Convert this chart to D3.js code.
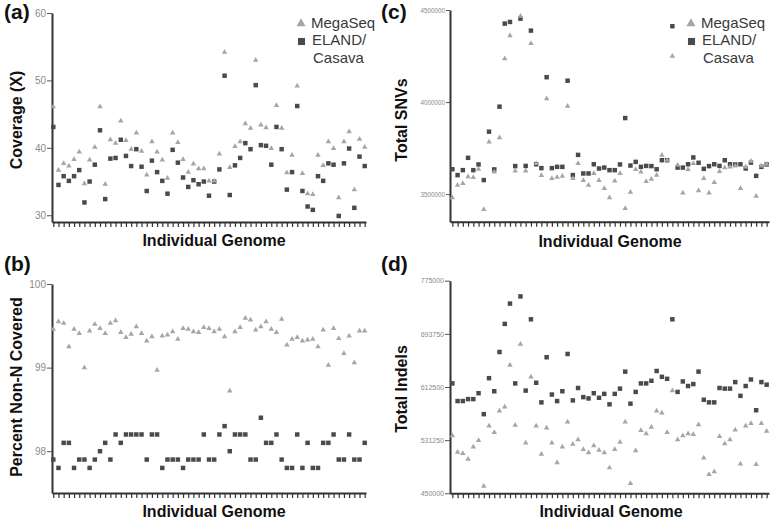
<!DOCTYPE html>
<html><head><meta charset="utf-8">
<script src="https://cdn.jsdelivr.net/npm/d3@7"></script>
<style>
body{margin:0;background:#fff;}
svg{display:block;font-family:"Liberation Sans",Arial,sans-serif;}
</style></head><body>
<svg id="chart" width="780" height="529"></svg>
<script>
// ---- Data ----
const coverageMegaSeq = [46.1,36.7,37.7,37.3,38.3,39.4,34.7,38.2,40.1,46.1,34.6,41.2,40.7,44.0,41.1,39.8,42.2,39.5,36.0,40.9,39.4,38.2,35.5,42.2,40.8,38.3,36.4,37.6,36.9,36.9,35.1,35.1,39.1,54.2,37.1,40.2,40.9,43.6,42.9,53.0,43.4,43.0,39.9,46.3,42.9,36.3,38.9,49.2,36.2,33.2,33.1,38.9,37.4,40.9,39.9,32.6,40.9,42.4,33.8,41.3,40.1];
const coverageEland = [43.1,34.5,35.8,35.1,35.8,36.7,31.9,35.0,37.5,42.6,32.4,38.4,38.5,41.2,38.8,37.3,39.8,37.2,33.6,38.1,36.4,35.1,33.2,39.7,37.8,35.6,34.2,35.2,34.6,35.0,32.9,35.0,36.8,50.7,33.0,37.4,38.5,40.7,39.8,49.3,40.4,40.3,37.5,43.1,39.8,33.8,36.4,46.2,33.6,31.3,30.8,35.8,35.1,37.7,37.5,29.9,37.7,39.9,31.1,38.7,37.3];
const coverageTicks = [30,40,50,60];

const percentMegaSeq = [99.46,99.55,99.53,99.25,99.46,99.41,99.00,99.44,99.52,99.47,99.41,99.53,99.56,99.42,99.36,99.40,99.49,99.41,99.32,99.37,98.97,99.38,99.39,99.43,99.34,99.47,99.46,99.43,99.42,99.48,99.47,99.43,99.46,99.37,98.72,99.43,99.48,99.59,99.57,99.45,99.49,99.55,99.46,99.42,99.58,99.27,99.34,99.36,99.32,99.33,99.34,99.25,99.45,99.03,99.47,99.35,99.17,99.38,99.06,99.44,99.44];
const percentEland = [97.9,97.8,98.1,98.1,97.8,97.9,97.9,97.8,97.9,98.0,98.1,97.9,98.2,98.1,98.2,98.2,98.2,98.2,97.9,98.2,98.2,97.8,97.9,97.9,97.9,97.8,97.9,97.9,97.9,98.2,97.9,97.9,98.2,98.3,98.0,98.2,98.2,98.2,97.9,97.9,98.4,98.1,98.1,98.2,97.9,97.8,97.8,98.2,97.8,98.1,97.8,97.8,98.1,98.1,98.2,97.9,97.9,98.2,97.9,97.9,98.1];
const percentTicks = [98,99,100];

const snvMegaSeq = [3480000,3549000,3558000,3594000,3590000,3635000,3417000,3783000,3621000,3807000,4235000,4361000,3626000,4467000,3626000,4319000,3666000,3601000,4018000,3585000,3592000,3597000,3978000,3585000,3666000,3574000,3549000,3612000,3574000,3531000,3480000,3572000,3612000,3422000,3511000,3634000,3621000,3569000,3581000,3603000,3711000,3684000,4249000,3657000,3507000,3634000,3666000,3518000,3585000,3507000,3563000,3623000,3644000,3648000,3653000,3531000,3648000,3679000,3489000,3653000,3662000];
const snvEland = [3635000,3603000,3630000,3697000,3630000,3661000,3576000,3839000,3634000,3975000,4426000,4435000,3652000,4453000,3653000,4388000,3662000,3641000,4135000,3641000,3648000,3648000,4116000,3603000,3713000,3612000,3612000,3662000,3639000,3644000,3630000,3630000,3661000,3913000,3655000,3675000,3648000,3653000,3652000,3635000,3684000,3684000,4412000,3644000,3644000,3662000,3699000,3670000,3637000,3652000,3662000,3653000,3684000,3662000,3661000,3662000,3639000,3671000,3599000,3648000,3661000];
const snvTicks = [3500000,4000000,4500000];

const indelMegaSeq = [538000,513000,511000,502000,521000,531000,461000,553000,543000,576000,582000,646000,554000,678000,527000,628000,553000,510000,550000,527000,497000,521000,559000,525000,532000,517000,512000,523000,516000,512000,489000,517000,528000,559000,465000,515000,546000,541000,551000,576000,573000,543000,607000,532000,538000,541000,540000,555000,504000,479000,483000,537000,526000,532000,547000,495000,553000,557000,494000,557000,545000];
const indelEland = [618000,591000,591000,594000,594000,603000,571000,626000,606000,666000,709000,740000,618000,751000,607000,716000,619000,589000,658000,601000,591000,606000,663000,592000,611000,597000,595000,603000,596000,602000,586000,602000,610000,636000,587000,605000,618000,618000,622000,637000,628000,625000,716000,605000,621000,614000,617000,636000,593000,589000,589000,611000,610000,610000,620000,599000,614000,624000,577000,620000,616000];
const indelTicks = [450000,531250,612500,693750,775000];

const seriesNames = ["MegaSeq", "ELAND/", "Casava"];
const genomes = coverageMegaSeq.map((d, i) => i + 1);

// ---- Layout (positions / styles) ----
const panels = [
  {label:"(a)", lx:4, ly:18.5, title:"Coverage (X)", tx:22, ty:120, xt:214, xtY:246,
   mega:coverageMegaSeq, eland:coverageEland, ticks:coverageTicks, domain:[29,60],
   x0:52, x1:366, pad:0.25, yTop:13, yBot:222, tf:10, ts:5, legend:{x:301, y:23.5}},
  {label:"(b)", lx:4, ly:271, title:"Percent Non-N Covered", tx:22, ty:387, xt:214, xtY:516.5,
   mega:percentMegaSeq, eland:percentEland, ticks:percentTicks, domain:[97.5,100],
   x0:52, x1:366, pad:0.25, yTop:284, yBot:493, tf:10, ts:5},
  {label:"(c)", lx:381, ly:18.5, title:"Total SNVs", tx:407, ty:120, xt:610, xtY:246.5,
   mega:snvMegaSeq, eland:snvEland, ticks:snvTicks, domain:[3350000,4500000],
   x0:450, x1:769, pad:0.45, yTop:10, yBot:221.7, tf:6.3, ts:4, legend:{x:691, y:23.5}},
  {label:"(d)", lx:381, ly:271, title:"Total Indels", tx:407, ty:389, xt:611, xtY:517,
   mega:indelMegaSeq, eland:indelEland, ticks:indelTicks, domain:[450000,775000],
   x0:450, x1:769, pad:0.45, yTop:280.7, yBot:493.3, tf:7, ts:5}
];

const svg = d3.select("#chart");
const triColor = "#a6a6a6", sqColor = "#4a4a4a", axisColor = "#333";
const tri = d3.symbol().type(d3.symbolTriangle).size(13);
const sq = d3.symbol().type(d3.symbolSquare).size(20);

panels.forEach(p => {
  const g = svg.append("g");
  const x = d3.scalePoint().domain(genomes).range([p.x0, p.x1]).padding(p.pad);
  const y = d3.scaleLinear().domain(p.domain).range([p.yBot, p.yTop]);

  // y axis
  const ya = g.append("g").attr("transform", `translate(${p.x0},0)`)
    .call(d3.axisLeft(y).tickValues(p.ticks).tickSize(p.ts).tickSizeOuter(0).tickPadding(1).tickFormat(d3.format("d")));
  ya.select(".domain").attr("stroke", axisColor).attr("stroke-width", 2);
  ya.selectAll(".tick line").attr("stroke", "#555").attr("stroke-width", 1);
  ya.selectAll(".tick text").attr("fill", "#8a8a8a").style("font-size", p.tf + "px")
    .style("font-family", "'Liberation Sans',Arial,sans-serif");

  // x axis
  const xa = g.append("g").attr("transform", `translate(0,${p.yBot})`)
    .call(d3.axisBottom(x).tickSize(5).tickSizeOuter(0).tickFormat(""));
  xa.select(".domain").attr("stroke", axisColor).attr("stroke-width", 2);
  xa.selectAll(".tick line").attr("stroke", "#333").attr("stroke-width", 1.2);

  // squares (ELAND/Casava)
  g.append("g").selectAll("path").data(p.eland).join("path")
    .attr("d", sq).attr("fill", sqColor)
    .attr("transform", (d, i) => `translate(${x(genomes[i])},${y(d)})`);
  // triangles (MegaSeq)
  g.append("g").selectAll("path").data(p.mega).join("path")
    .attr("d", tri).attr("fill", triColor)
    .attr("transform", (d, i) => `translate(${x(genomes[i])},${y(d)})`);

  // titles
  g.append("text").attr("x", p.lx).attr("y", p.ly).text(p.label)
    .attr("font-weight", "bold").attr("font-size", 21).attr("fill", "#111");
  g.append("text").attr("transform", `translate(${p.tx},${p.ty}) rotate(-90)`)
    .attr("text-anchor", "middle").attr("font-weight", "bold").attr("font-size", 16)
    .attr("fill", "#111").text(p.title);
  g.append("text").attr("x", p.xt).attr("y", p.xtY).attr("text-anchor", "middle")
    .attr("font-weight", "bold").attr("font-size", 16).attr("fill", "#111").text("Individual Genome");

  // legend
  if (p.legend) {
    const L = g.append("g").attr("transform", `translate(${p.legend.x},${p.legend.y})`);
    L.append("path").attr("d", d3.symbol().type(d3.symbolTriangle).size(36)).attr("fill", triColor);
    L.append("path").attr("d", d3.symbol().type(d3.symbolSquare).size(50)).attr("fill", sqColor)
      .attr("transform", "translate(0.5,18)");
    const tx = L.append("g").attr("fill", "#3a3a3a").attr("font-size", 15);
    tx.append("text").attr("x", 10).attr("y", 4.5).text(seriesNames[0]);
    tx.append("text").attr("x", 11).attr("y", 21.5).text(seriesNames[1]);
    tx.append("text").attr("x", 12).attr("y", 39.5).text(seriesNames[2]);
  }
});
</script>
</body></html>
